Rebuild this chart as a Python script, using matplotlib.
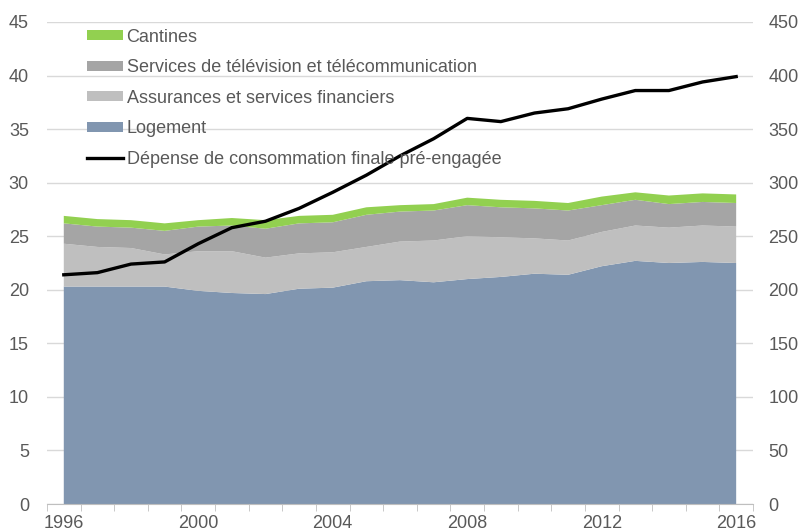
import numpy as np
import matplotlib.pyplot as plt
from matplotlib.ticker import MultipleLocator

plt.rcParams['font.family'] = ['Liberation Sans', 'DejaVu Sans']

annees = list(range(1996, 2017))
logement = [20.3, 20.3, 20.3, 20.3, 19.9, 19.7, 19.6, 20.1, 20.2, 20.8, 20.9,
            20.7, 21.0, 21.2, 21.5, 21.4, 22.2, 22.7, 22.5, 22.6, 22.5]
assurances = [4.0, 3.7, 3.6, 3.0, 3.7, 3.9, 3.4, 3.3, 3.3, 3.2, 3.6,
              3.9, 4.0, 3.7, 3.3, 3.2, 3.2, 3.3, 3.3, 3.4, 3.4]
television = [1.9, 1.9, 1.9, 2.2, 2.3, 2.4, 2.7, 2.8, 2.8, 3.0, 2.8,
              2.8, 2.9, 2.8, 2.8, 2.8, 2.5, 2.4, 2.2, 2.2, 2.2]
cantines = [0.7, 0.7, 0.7, 0.7, 0.6, 0.7, 0.8, 0.7, 0.7, 0.7, 0.6,
            0.6, 0.7, 0.7, 0.7, 0.7, 0.8, 0.7, 0.8, 0.8, 0.8]
depense = [214, 216, 224, 226, 243, 258, 264, 276, 291, 307, 325,
           341, 360, 357, 365, 369, 378, 386, 386, 394, 399]

noms = ['Logement', 'Assurances et services financiers',
        'Services de télévision et télécommunication', 'Cantines']
couleurs = ['#8196B0', '#BFBFBF', '#A5A5A5', '#92D050']
txt = '#595959'

x = np.arange(len(annees))

fig = plt.figure(figsize=(7.99, 5.31), dpi=100)
ax = fig.add_axes([0.0588, 0.0508, 0.8836, 0.9078])
ax2 = ax.twinx()

polys = ax.stackplot(x, logement, assurances, television, cantines,
                     colors=couleurs, labels=noms, linewidth=0, zorder=2)
ligne, = ax2.plot(x, depense, color='black', lw=2.4,
                  label='Dépense de consommation finale pré-engagée', zorder=3)

ax.set_xlim(-0.5, len(annees) - 0.5)
ax.set_ylim(0, 45)
ax2.set_ylim(0, 450)
ax.yaxis.set_major_locator(MultipleLocator(5))
ax2.yaxis.set_major_locator(MultipleLocator(50))
ax.grid(axis='y', color='#D9D9D9', lw=1, zorder=0)
ax.set_axisbelow(True)

ax.set_xticks(x[::4])
ax.set_xticklabels([str(a) for a in annees[::4]])
ax.set_xticks(np.arange(-0.5, len(annees)), minor=True)
ax.tick_params(axis='x', which='major', length=0, pad=8, labelsize=13, labelcolor=txt)
ax.tick_params(axis='x', which='minor', length=5, color='#BFBFBF', direction='out')
ax.tick_params(axis='y', length=0, pad=13, labelsize=13, labelcolor=txt)
ax2.tick_params(axis='y', length=0, pad=11, labelsize=13, labelcolor=txt)

for a in (ax, ax2):
    for s in ['top', 'left', 'right']:
        a.spines[s].set_visible(False)
ax2.spines['bottom'].set_visible(False)
ax.spines['bottom'].set_color('#BFBFBF')

handles = polys[::-1] + [ligne]
labels = noms[::-1] + [ligne.get_label()]
leg = ax2.legend(handles, labels, loc='upper left', bbox_to_anchor=(0.033, 1.02),
                 frameon=False, fontsize=13, labelcolor=txt, handlelength=2.0,
                 handleheight=0.5, handletextpad=0.22, labelspacing=0.75)

fig.savefig('out.png', dpi=100)
